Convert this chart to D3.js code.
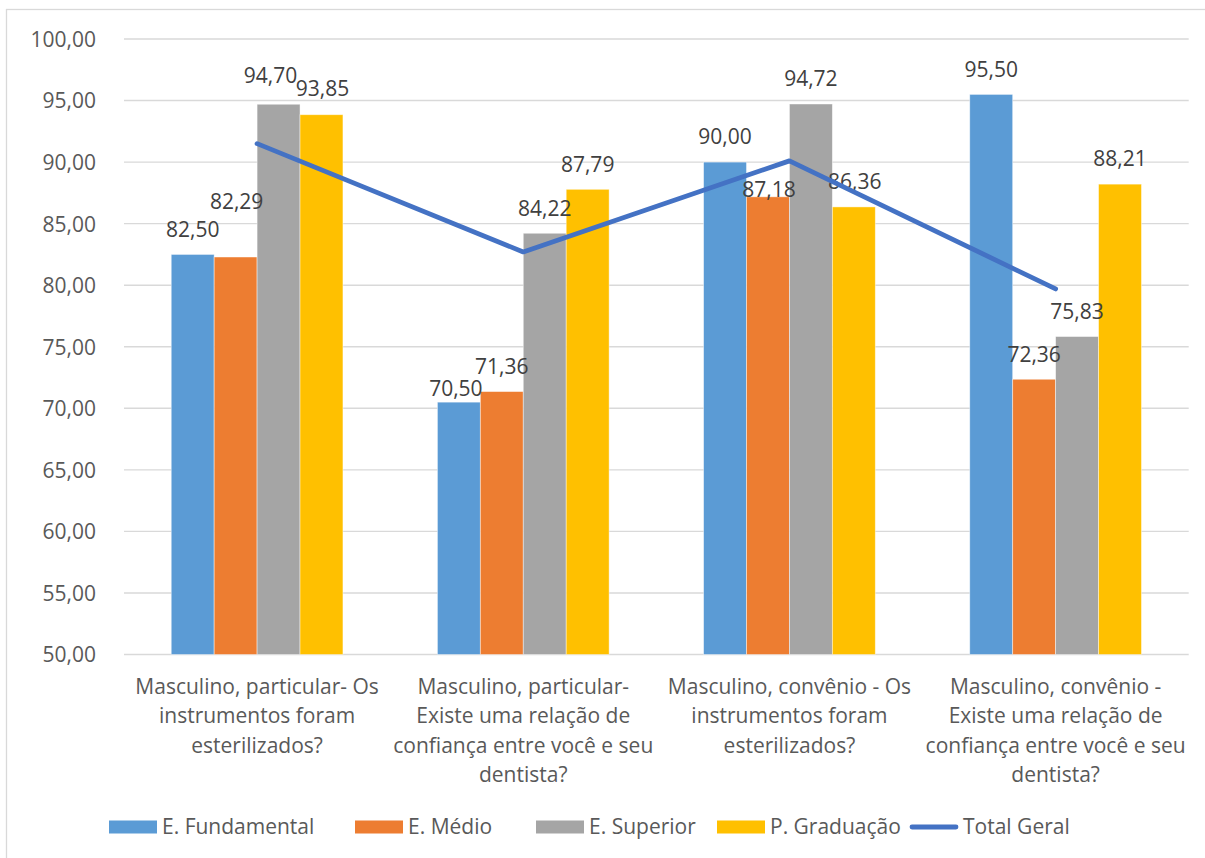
<!DOCTYPE html>
<html>
<head>
<meta charset="utf-8">
<script src="https://cdn.jsdelivr.net/npm/d3@7"></script>
<style>
  html, body { margin: 0; padding: 0; background: #fff; }
  svg { display: block; }
  text { font-family: "Open Sans", "Noto Sans", sans-serif; }
</style>
</head>
<body>
<svg id="chart" width="1205" height="858"></svg>
<script>
// Question categories (one entry per group, pre-broken into lines)
const categories = [
  "Masculino, particular- Os instrumentos foram esterilizados?",
  "Masculino, particular- Existe uma relação de confiança entre você e seu dentista?",
  "Masculino, convênio - Os instrumentos foram esterilizados?",
  "Masculino, convênio - Existe uma relação de confiança entre você e seu dentista?"
];
const categoryLines = [
  ["Masculino, particular- Os", "instrumentos foram", "esterilizados?"],
  ["Masculino, particular-", "Existe uma relação de", "confiança entre você e seu", "dentista?"],
  ["Masculino, convênio - Os", "instrumentos foram", "esterilizados?"],
  ["Masculino, convênio -", "Existe uma relação de", "confiança entre você e seu", "dentista?"]
];

// Series values per category
const seriesNames = ["E. Fundamental", "E. Médio", "E. Superior", "P. Graduação"];
const fundamental = [82.50, 70.50, 90.00, 95.50];
const medio       = [82.29, 71.36, 87.18, 72.36];
const superior    = [94.70, 84.22, 94.72, 75.83];
const posGraduacao = [93.85, 87.79, 86.36, 88.21];
const totalGeral  = [91.5, 82.7, 90.1, 79.7];
const lineName = "Total Geral";

// Value axis ticks
const yTicks = [50, 55, 60, 65, 70, 75, 80, 85, 90, 95, 100];

// Colours
const barColors = ["#5B9BD5", "#ED7D31", "#A5A5A5", "#FFC000"];
const lineColor = "#4472C4";

// Small per-label nudges (dx, dy) to keep overlapping data labels readable
const labelNudges = [
  [[0, 0], [1, -30], [-8, -4], [1, -1]],
  [[-3, 11.5], [0, 0], [0, 0], [0, 0]],
  [[0, 0], [1, 18], [0, 0], [1, 0]],
  [[0, 0], [0, 0], [0, 0], [0, 0]]
];

// Legend slot start positions along the bottom row
const legendSlots = [109, 355, 536, 717, 910];

const seriesValues = [fundamental, medio, superior, posGraduacao];

const svg = d3.select("#chart");
const fmt = v => d3.format(".2f")(v).replace(".", ",");

// Chart frame
svg.append("rect")
  .attr("x", 6.5).attr("y", 9.5)
  .attr("width", 1210).attr("height", 860)
  .attr("fill", "#fff")
  .attr("stroke", "#D9D9D9").attr("stroke-width", 1.3);

const plot = { left: 124, right: 1188.7, top: 39, bottom: 654.5 };

const x0 = d3.scaleBand()
  .domain(d3.range(categories.length))
  .range([plot.left, plot.right])
  .padding(0);

const x1 = d3.scaleBand()
  .domain(d3.range(seriesNames.length))
  .range([0, x0.bandwidth()])
  .paddingInner(0)
  .paddingOuter(1.1);

const y = d3.scaleLinear()
  .domain([50, 100])
  .range([plot.bottom, plot.top]);

// Horizontal gridlines
svg.append("g")
  .selectAll("line")
  .data(yTicks)
  .join("line")
  .attr("x1", plot.left).attr("x2", plot.right)
  .attr("y1", d => y(d)).attr("y2", d => y(d))
  .attr("stroke", "#D9D9D9")
  .attr("stroke-width", 1.4);

// Y tick labels
const yAxis = d3.axisLeft(y)
  .tickValues(yTicks)
  .tickFormat(fmt)
  .tickSize(0)
  .tickPadding(0);
const yAxisG = svg.append("g")
  .attr("transform", `translate(${96},0)`)
  .call(yAxis);
yAxisG.select(".domain").remove();
yAxisG.selectAll("text")
  .attr("fill", "#595959")
  .attr("font-size", 21)
  .attr("dy", "0.35em");

// Bars
const groups = svg.append("g")
  .selectAll("g")
  .data(d3.range(categories.length))
  .join("g")
  .attr("transform", i => `translate(${x0(i)},0)`);

groups.selectAll("rect")
  .data(i => seriesValues.map((s, k) => ({ k, v: s[i] })))
  .join("rect")
  .attr("x", d => x1(d.k))
  .attr("y", d => y(d.v))
  .attr("width", x1.bandwidth())
  .attr("height", d => y(50) - y(d.v))
  .attr("fill", d => barColors[d.k])
  .attr("stroke", "#ffffff")
  .attr("stroke-opacity", 0.55)
  .attr("stroke-width", 0.8);

// Total line through category centres
const line = d3.line()
  .x((d, i) => x0(i) + x0.bandwidth() / 2)
  .y(d => y(d));

svg.append("path")
  .datum(totalGeral)
  .attr("d", line)
  .attr("fill", "none")
  .attr("stroke", lineColor)
  .attr("stroke-width", 4.8)
  .attr("stroke-linecap", "round")
  .attr("stroke-linejoin", "round");

// Data labels above bars
groups.selectAll("text.val")
  .data(i => seriesValues.map((s, k) => ({ i, k, v: s[i] })))
  .join("text")
  .attr("class", "val")
  .attr("x", d => x1(d.k) + x1.bandwidth() / 2 + labelNudges[d.i][d.k][0])
  .attr("y", d => y(d.v) - 25 + labelNudges[d.i][d.k][1])
  .attr("dy", "0.35em")
  .attr("text-anchor", "middle")
  .attr("font-size", 21)
  .attr("fill", "#404040")
  .text(d => fmt(d.v));

// Category labels
const catG = svg.append("g");
categoryLines.forEach((lines, i) => {
  const t = catG.append("text")
    .attr("text-anchor", "middle")
    .attr("font-size", 21)
    .attr("fill", "#595959");
  lines.forEach((ln, j) => {
    t.append("tspan")
      .attr("x", x0(i) + x0.bandwidth() / 2)
      .attr("y", 686.7 + j * 29.4)
      .attr("dy", "0.35em")
      .text(ln);
  });
});

// Legend
const legend = svg.append("g");
const ly = 827;
const legendItems = seriesNames.map((n, k) => ({ name: n, color: barColors[k], type: "bar" }))
  .concat([{ name: lineName, color: lineColor, type: "line" }]);
legendItems.forEach((item, idx) => {
  const lx = legendSlots[idx];
  if (item.type === "bar") {
    legend.append("rect")
      .attr("x", lx).attr("y", ly - 6.5)
      .attr("width", 48).attr("height", 13)
      .attr("fill", item.color);
  } else {
    legend.append("line")
      .attr("x1", lx + 2).attr("x2", lx + 46)
      .attr("y1", ly).attr("y2", ly)
      .attr("stroke", item.color)
      .attr("stroke-width", 4.8)
      .attr("stroke-linecap", "round");
  }
  legend.append("text")
    .attr("x", lx + 53)
    .attr("y", ly)
    .attr("dy", "0.35em")
    .attr("font-size", 21)
    .attr("fill", "#595959")
    .text(item.name);
});
</script>
</body>
</html>
